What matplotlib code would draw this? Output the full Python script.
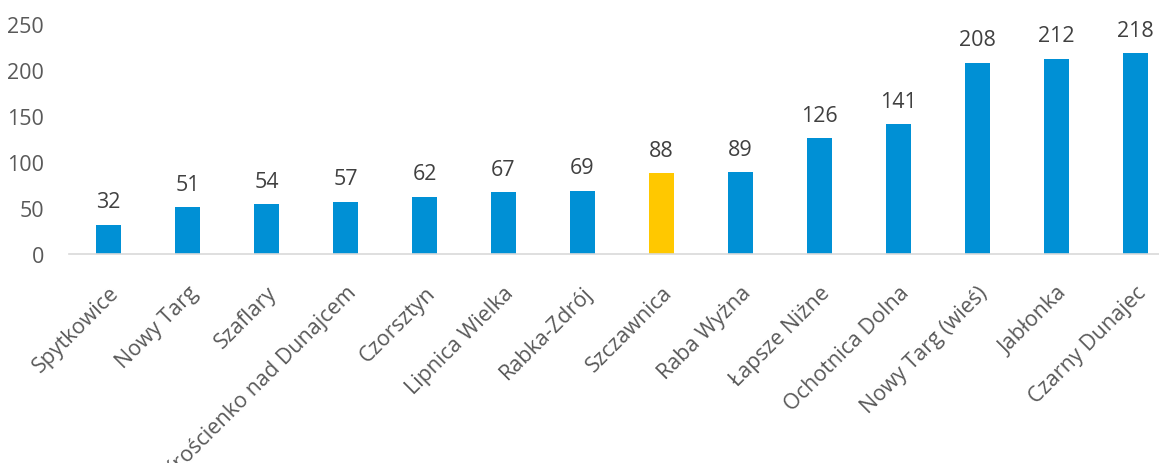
import matplotlib
matplotlib.use("Agg")
import matplotlib.pyplot as plt

categories = ["Spytkowice", "Nowy Targ", "Szaflary", "Krościenko nad Dunajcem", "Czorsztyn",
              "Lipnica Wielka", "Rabka-Zdrój", "Szczawnica", "Raba Wyżna", "Łapsze Niżne",
              "Ochotnica Dolna", "Nowy Targ (wieś)", "Jabłonka", "Czarny Dunajec"]
values = [32, 51, 54, 57, 62, 67, 69, 88, 89, 126, 141, 208, 212, 218]
highlight = "Szczawnica"

plt.rcParams['font.family'] = ['Open Sans', 'DejaVu Sans']

W, H = 1159, 464
fig = plt.figure(figsize=(W/100, H/100), dpi=100)
left, right = 69/W, 1175/W
bottom, top = 1 - 255/H, 1 - 25/H
ax = fig.add_axes([left, bottom, right-left, top-bottom])

blue = "#0090D5"
yellow = "#FFC800"
colors = [yellow if c == highlight else blue for c in categories]
x = range(len(categories))
bars = ax.bar(x, values, width=0.31, color=colors)
ax.set_xlim(-0.5, len(categories)-0.5)
ax.set_ylim(0, 250)
ax.set_yticks([0, 50, 100, 150, 200, 250])

fs = 15.5
for b, v in zip(bars, values):
    ax.annotate(str(v), (b.get_x()+b.get_width()/2, v), xytext=(0, 9),
                textcoords="offset points", ha="center", va="bottom",
                fontsize=fs, color="#404040")

ax.set_xticks(list(x))
ax.set_xticklabels(categories, rotation=45, ha="right", rotation_mode="anchor",
                   fontsize=fs, color="#595959")
ax.tick_params(axis="x", length=0, pad=20)
ax.tick_params(axis="y", length=0, labelsize=fs, labelcolor="#595959", pad=18)
for t in ax.get_yticklabels():
    t.set_ha("right")
for s in ["top", "right", "left"]:
    ax.spines[s].set_visible(False)
ax.spines["bottom"].set_color("#D9D9D9")
ax.spines["bottom"].set_linewidth(1.2)

fig.savefig("out.png", dpi=100)
